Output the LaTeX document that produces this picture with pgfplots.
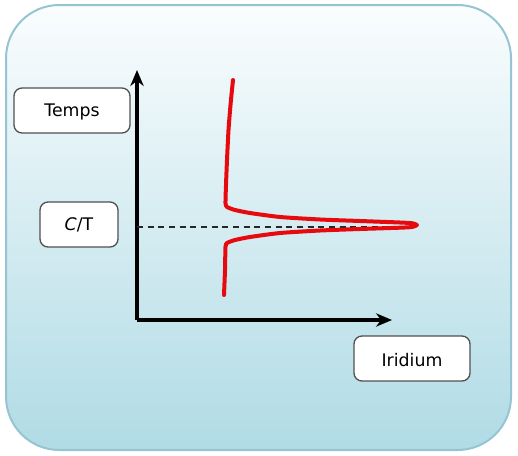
\documentclass[border=0pt]{standalone}
\usepackage{pgfplots}
\pgfplotsset{compat=1.18}
\usepackage{fontspec}
\setmainfont{DejaVu Sans}
\usetikzlibrary{arrows.meta}
\definecolor{bgbot}{RGB}{176,219,229}
\definecolor{bgtop}{RGB}{250,253,254}
\definecolor{bgborder}{RGB}{150,196,210}
\definecolor{boxborder}{RGB}{80,80,80}
\definecolor{curvered}{RGB}{230,10,15}
\begin{document}
\begin{tikzpicture}[x=0.75pt,y=0.75pt]
\useasboundingbox (0,0) rectangle (518,455);
% background panel
\shade[top color=bgtop, bottom color=bgbot, rounded corners=40pt] (6,5) rectangle (511,450);
\draw[bgborder, line width=1.5pt, rounded corners=40pt] (6,5) rectangle (511,450);
% label boxes
\tikzset{lbl/.style={draw=boxborder, fill=white, line width=1pt, rounded corners=6pt}}
\draw[lbl] (14,322) rectangle (130,367);
\node[font=\fontsize{13}{15}\selectfont] at (72,343) {Temps};
\draw[lbl] (40,208) rectangle (118,253);
\node[font=\fontsize{13}{15}\selectfont] at (79,230) {\textit{C}/T};
\draw[lbl] (354,74) rectangle (470,119);
\node[font=\fontsize{13}{15}\selectfont] at (412,95) {Iridium};
\begin{axis}[
  at={(137,135)}, anchor=south west,
  scale only axis,
  width=191.25pt, height=187.5pt,
  xmin=0, xmax=255, ymin=0, ymax=250,
  axis lines=none,
  xtick=\empty, ytick=\empty,
  clip=false,
]
\draw[line width=2.3pt, -{Stealth[length=12pt,width=10pt]}] (axis cs:0,0) -- (axis cs:255,0);
\draw[line width=2.3pt, -{Stealth[length=12pt,width=10pt]}] (axis cs:0,0) -- (axis cs:0,250);
\addplot[dash pattern=on 4.5pt off 3.5pt, line width=1.3pt, black!85] coordinates {(0,93) (278,93)};
\addplot[curvered, line width=3pt, smooth, tension=0.35, line join=round, line cap=round] coordinates {
(96,240) (93.5,215) (91.5,190) (90,160) (89,135) (88.5,117) (90,113)
(98,110) (113,107) (143,103) (183,100.5) (223,99) (263,97.5) (275,96.8)
(280,95)
(275,93) (263,92.3) (223,91) (183,89.5) (143,87) (113,83) (98,80)
(90,77) (88.5,73) (88,50) (87,25)
};
\end{axis}
\end{tikzpicture}
\end{document}
